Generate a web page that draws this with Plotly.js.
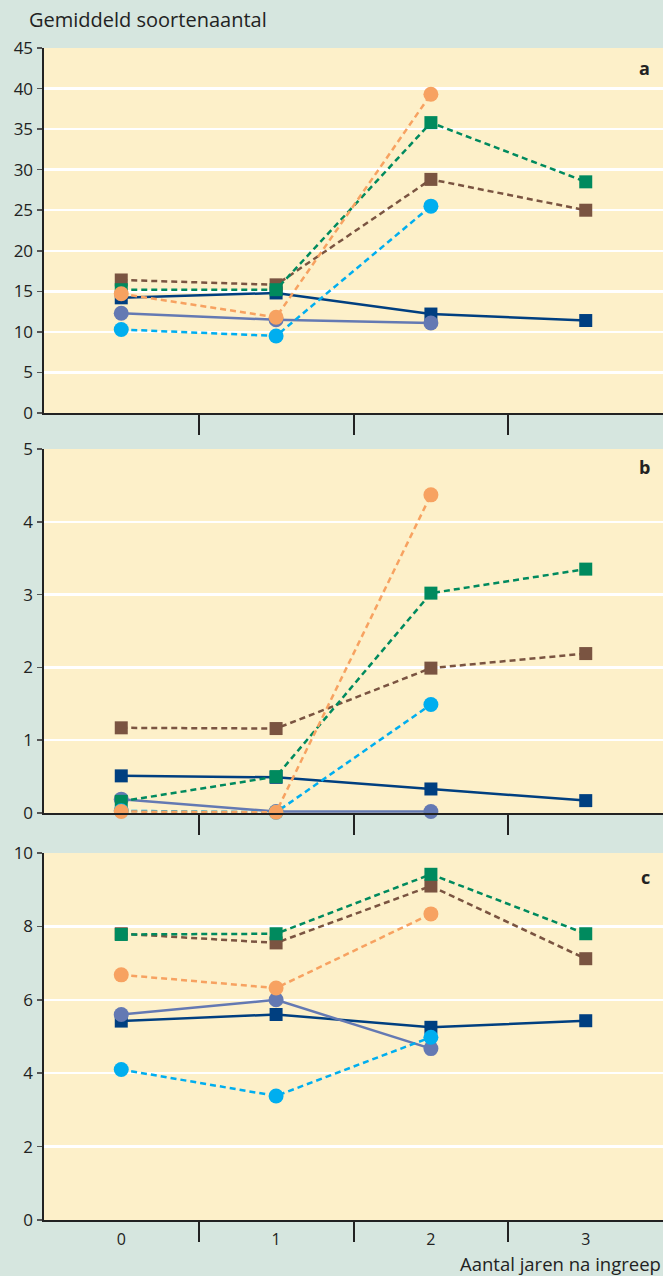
<!DOCTYPE html>
<html><head><meta charset="utf-8">
<script src="https://cdn.plot.ly/plotly-3.0.1.min.js"></script>
<style>html,body{margin:0;padding:0;background:#d6e6df;}#chart{width:663px;height:1276px;}</style>
</head><body><div id="chart"></div>
<script>
const years = [0, 1, 2, 3];
const yearLabels = ['0', '1', '2', '3'];
const panelLetters = ['a', 'b', 'c'];

const navyA   = [14.2, 14.8, 12.2, 11.4];
const slateA  = [12.3, 11.5, 11.1, null];
const brownA  = [16.4, 15.8, 28.8, 25.0];
const greenA  = [15.2, 15.2, 35.8, 28.5];
const lightA  = [10.3, 9.5, 25.5, null];
const orangeA = [14.7, 11.8, 39.3, null];

const navyB   = [0.51, 0.49, 0.33, 0.17];
const slateB  = [0.19, 0.02, 0.02, null];
const brownB  = [1.17, 1.16, 1.99, 2.19];
const greenB  = [0.16, 0.50, 3.02, 3.35];
const lightB  = [0.03, 0.01, 1.49, null];
const orangeB = [0.02, 0.01, 4.37, null];

const navyC   = [5.42, 5.60, 5.25, 5.43];
const slateC  = [5.60, 6.00, 4.67, null];
const brownC  = [7.80, 7.55, 9.10, 7.12];
const greenC  = [7.78, 7.80, 9.42, 7.80];
const lightC  = [4.10, 3.38, 4.98, null];
const orangeC = [6.68, 6.32, 8.34, null];

const styles = {
  navy:   {color:'#003f80', dash:'solid', symbol:'square'},
  slate:  {color:'#6479b3', dash:'solid', symbol:'circle'},
  brown:  {color:'#7a5441', dash:'6px,4px', symbol:'square'},
  green:  {color:'#008a5e', dash:'6px,4px', symbol:'square'},
  light:  {color:'#00aeef', dash:'6px,4px', symbol:'circle'},
  orange: {color:'#f7a261', dash:'6px,4px', symbol:'circle'}
};

const panels = [
  {navy:navyA, slate:slateA, brown:brownA, green:greenA, light:lightA, orange:orangeA},
  {navy:navyB, slate:slateB, brown:brownB, green:greenB, light:lightB, orange:orangeB},
  {navy:navyC, slate:slateC, brown:brownC, green:greenC, light:lightC, orange:orangeC}
];
const order = ['navy', 'slate', 'brown', 'green', 'light', 'orange'];

const data = [];
panels.forEach((p, i) => {
  const sfx = i === 0 ? '' : String(i + 1);
  order.forEach(k => {
    const s = styles[k];
    data.push({
      type:'scatter', mode:'lines+markers', x: years, y: p[k],
      xaxis:'x' + sfx, yaxis:'y' + sfx, cliponaxis:false, showlegend:false,
      line:{color:s.color, width:2.5, dash:s.dash},
      marker:{color:s.color, symbol:s.symbol, size: s.symbol === 'square' ? 13 : 15},
      hoverinfo:'skip'
    });
  });
});

const H = 1276;
const doms = [[1 - 413/H, 1 - 48/H], [1 - 813/H, 1 - 449/H], [1 - 1220/H, 1 - 853/H]];
const yr = [[0, 45, 5], [0, 5, 1], [0, 10, 2]];
const font = {family:'Open Sans, sans-serif', size:16, color:'#222'};

const layout = {
  width:663, height:1276,
  margin:{l:0, r:0, t:0, b:0},
  paper_bgcolor:'#d6e6df', plot_bgcolor:'#fdf0c9',
  font: font,
  annotations: [
    {text:'Gemiddeld soortenaantal', xref:'paper', yref:'paper', x:27/663, y:1 - 20/H,
     xanchor:'left', yanchor:'middle', showarrow:false, font:{family:'Open Sans, sans-serif', size:20, color:'#222'}},
    {text:'Aantal jaren na ingreep', xref:'paper', yref:'paper', x:1, y:1 - 1263/H,
     xanchor:'right', yanchor:'middle', showarrow:false, font:{family:'Open Sans, sans-serif', size:18.5, color:'#222'}}
  ]
};
const letterY = [68, 467, 877];
doms.forEach((d, i) => {
  const sfx = i === 0 ? '' : String(i + 1);
  layout['xaxis' + sfx] = {
    domain:[44/663, 1], range:[-0.499, 3.499], anchor:'y' + sfx,
    showgrid:false, zeroline:false, showline:true, linecolor:'#222', linewidth:2,
    tickvals: i === 2 ? years : [], ticktext: i === 2 ? yearLabels : [],
    ticks:'', showticklabels: i === 2, ticklabelstandoff:4,
    tickfont:{family:'Open Sans, sans-serif', size:16, color:'#222'},
    minor:{tick0:0.5, dtick:1, ticks:'outside', ticklen:20, tickwidth:2, tickcolor:'#222', showgrid:false}
  };
  layout['yaxis' + sfx] = {
    domain:d, range:[yr[i][0], yr[i][1]], anchor:'x' + sfx, dtick:yr[i][2], tick0:0,
    showgrid:true, gridcolor:'#ffffff', gridwidth:2.5, zeroline:false,
    showline:true, linecolor:'#222', linewidth:2.5,
    ticks:'outside', ticklen:5, tickwidth:1.5, tickcolor:'#555',
    tickfont:{family:'Open Sans, sans-serif', size:17, color:'#222'}
  };
  layout.annotations.push({text:'<b>' + panelLetters[i] + '</b>', xref:'paper', yref:'paper',
    x:652/663, y:1 - letterY[i]/H, xanchor:'right', yanchor:'middle', showarrow:false,
    font:{family:'Open Sans, sans-serif', size:18, color:'#222'}});
});

Plotly.newPlot('chart', data, layout, {displayModeBar:false, staticPlot:true});
</script></body></html>
